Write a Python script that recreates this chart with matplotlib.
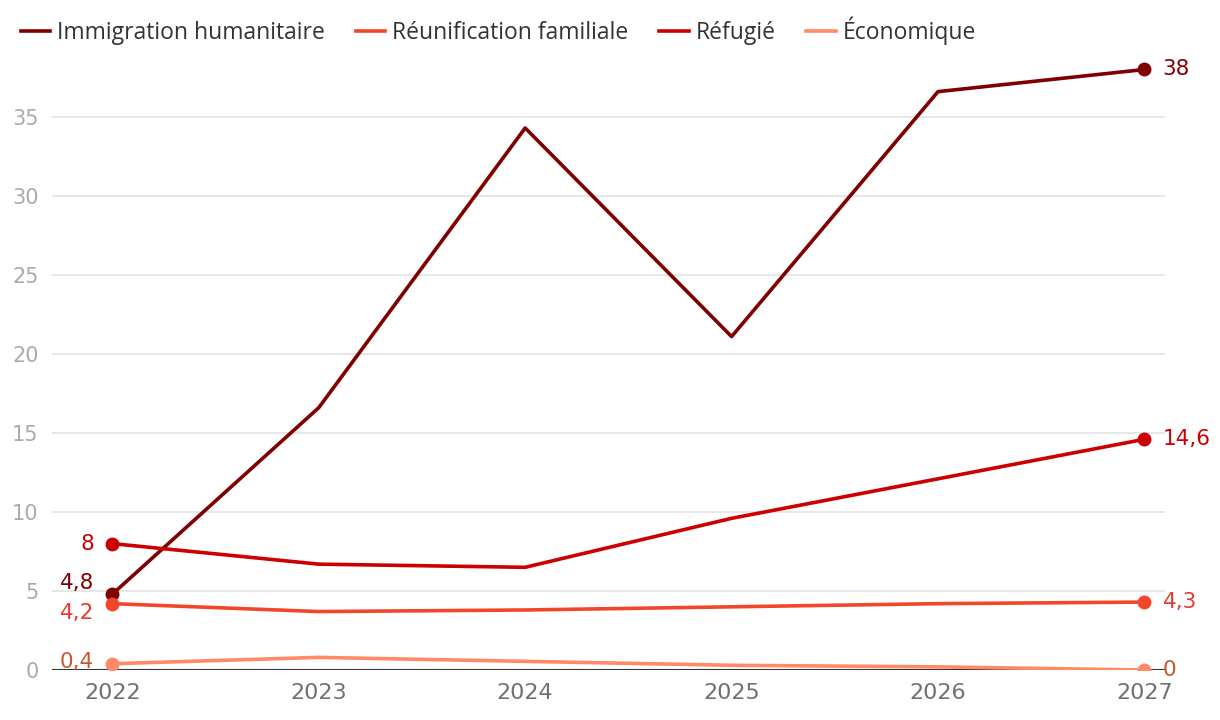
import matplotlib
matplotlib.use("Agg")
import matplotlib.pyplot as plt

plt.rcParams['font.family'] = ['DejaVu Sans']

years = [2022, 2023, 2024, 2025, 2026, 2027]
series_names = ["Immigration humanitaire", "Réunification familiale", "Réfugié", "Économique"]
humanitaire = [4.8, 16.6, 34.3, 21.1, 36.6, 38]
reunification = [4.2, 3.7, 3.8, 4.0, 4.2, 4.3]
refugie = [8, 6.7, 6.5, 9.6, 12.1, 14.6]
economique = [0.4, 0.8, 0.55, 0.3, 0.2, 0]

colors = ["#800000", "#f2462b", "#cc0000", "#ff8a65"]
label_colors = ["#800000", "#e8392a", "#cc0000", "#c8582f"]
all_values = [humanitaire, reunification, refugie, economique]

fig = plt.figure(figsize=(12.2, 7.2), dpi=100)
ax = fig.add_axes([0.043, 0.0694, 0.912, 0.867])

for name, vals, c in zip(series_names, all_values, colors):
    ax.plot(years, vals, color=c, lw=2.6, label=name, zorder=3)
    ax.plot([years[0], years[-1]], [vals[0], vals[-1]], 'o', color=c, ms=9, zorder=4)

# start labels (offset to avoid overlap)
start_offsets = [(-13, 8), (-13, -7), (-13, 0), (-13, 1)]
for vals, c, off in zip(all_values, label_colors, start_offsets):
    ax.annotate(f"{vals[0]:g}".replace('.', ','), (years[0], vals[0]),
                xytext=off, textcoords='offset points', ha='right', va='center',
                fontsize=15.5, color=c)
for vals, c in zip(all_values, label_colors):
    ax.annotate(f"{vals[-1]:g}".replace('.', ','), (years[-1], vals[-1]),
                xytext=(13, 0), textcoords='offset points', ha='left', va='center',
                fontsize=15.5, color=c)

ax.set_xlim(2021.71, 2027.1)
ax.set_ylim(0, 39.5)
ax.set_yticks([0, 5, 10, 15, 20, 25, 30, 35])
ax.set_xticks(years)
ax.grid(axis='y', color='#e3e3e3', lw=1.2, zorder=0)
ax.axhline(0, color='#333333', lw=1.5, zorder=2)
for s in ax.spines.values():
    s.set_visible(False)
ax.tick_params(axis='y', length=0, labelsize=15, labelcolor='#aaaaaa', pad=10)
ax.tick_params(axis='x', length=0, labelsize=16, labelcolor='#707070', pad=9)

fig.legend(loc='upper left', bbox_to_anchor=(0.0, 1.006), ncol=4, frameon=False,
           prop={'family': ['Open Sans', 'DejaVu Sans'], 'size': 16.5},
           handlelength=1.3, handletextpad=0.28, columnspacing=1.35,
           labelcolor='#333333')

fig.savefig("out.png", dpi=100)
